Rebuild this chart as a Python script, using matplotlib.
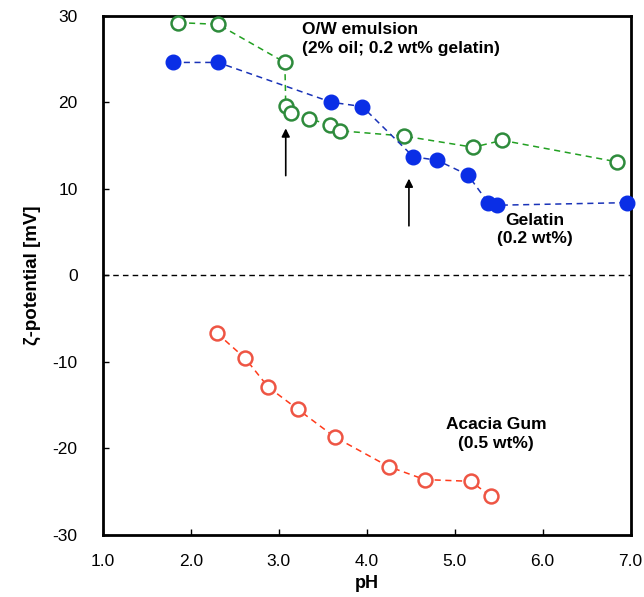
import numpy as np
import matplotlib.pyplot as plt

plt.rcParams['font.family'] = ['Liberation Sans', 'DejaVu Sans']
plt.rcParams['axes.unicode_minus'] = False

# gelatin (0.2 wt%)
gel_ph = [1.80, 2.31, 3.60, 3.95, 4.53, 4.80, 5.15, 5.38, 5.48, 6.96]
gel_zeta = [24.6, 24.6, 20.0, 19.5, 13.7, 13.3, 11.6, 8.4, 8.1, 8.4]

# O/W emulsion
emu_ph = [1.86, 2.31, 3.07, 3.08, 3.14, 3.34, 3.58, 3.70, 4.42, 5.21, 5.54, 6.85]
emu_zeta = [29.2, 29.0, 24.6, 19.6, 18.7, 18.1, 17.4, 16.7, 16.1, 14.8, 15.6, 13.1]

# acacia gum (0.5 wt%)
aca_ph = [2.30, 2.62, 2.88, 3.22, 3.64, 4.25, 4.66, 5.18, 5.41]
aca_zeta = [-6.7, -9.6, -12.9, -15.5, -18.7, -22.1, -23.6, -23.8, -25.5]

fig = plt.figure(figsize=(6.44, 5.97), dpi=100)
ax = fig.add_axes([0.1595, 0.1039, 0.8198, 0.8698])

ax.axhline(0, color='black', lw=1, ls=(0, (4, 3)))

ax.plot(emu_ph, emu_zeta, ls=(0, (4, 3)), color='#22a022', lw=1.1,
        marker='o', ms=10, mfc='white', mec='#2e8b3c', mew=1.8, clip_on=False, zorder=3)
ax.plot(gel_ph, gel_zeta, ls=(0, (4, 3)), color='#1a33b8', lw=1.1,
        marker='o', ms=10.5, mfc='#0a2ee6', mec='#0a2ee6', clip_on=False, zorder=4)
ax.plot(aca_ph, aca_zeta, ls=(0, (4, 3)), color='#ff3a1a', lw=1.1,
        marker='o', ms=10, mfc='white', mec='#ee5544', mew=1.8, clip_on=False, zorder=3)

# arrows
ax.annotate('', xy=(3.08, 17.3), xytext=(3.08, 11.2),
            arrowprops=dict(arrowstyle='-|>', color='black', lw=1.2, mutation_scale=12))
ax.annotate('', xy=(4.48, 11.5), xytext=(4.48, 5.4),
            arrowprops=dict(arrowstyle='-|>', color='black', lw=1.2, mutation_scale=12))

tkw = dict(fontsize=12.5, fontweight='bold')
ax.text(3.27, 27.3, 'O/W emulsion\n(2% oil; 0.2 wt% gelatin)', ha='left', va='center',
        linespacing=1.3, **tkw)
ax.text(5.91, 5.3, 'Gelatin\n(0.2 wt%)', ha='center', va='center', linespacing=1.3, **tkw)
ax.text(5.47, -18.3, 'Acacia Gum\n(0.5 wt%)', ha='center', va='center', linespacing=1.3, **tkw)

ax.set_xlim(1.0, 7.0)
ax.set_ylim(-30, 30)
ax.set_xticks(np.arange(1, 8, 1))
ax.set_xticklabels(['%.1f' % v for v in np.arange(1, 8, 1)])
ax.set_yticks(np.arange(-30, 31, 10))
ax.tick_params(direction='in', length=4, width=1, labelsize=12.5)
ax.tick_params(axis='x', pad=14)
ax.tick_params(axis='y', pad=18)
for s in ax.spines.values():
    s.set_linewidth(2)

ax.set_xlabel('pH', fontsize=13, fontweight='bold', labelpad=4)
ax.set_ylabel('ζ-potential [mV]', fontsize=13.5, fontweight='bold', labelpad=8)

fig.savefig('out.png', dpi=100)
